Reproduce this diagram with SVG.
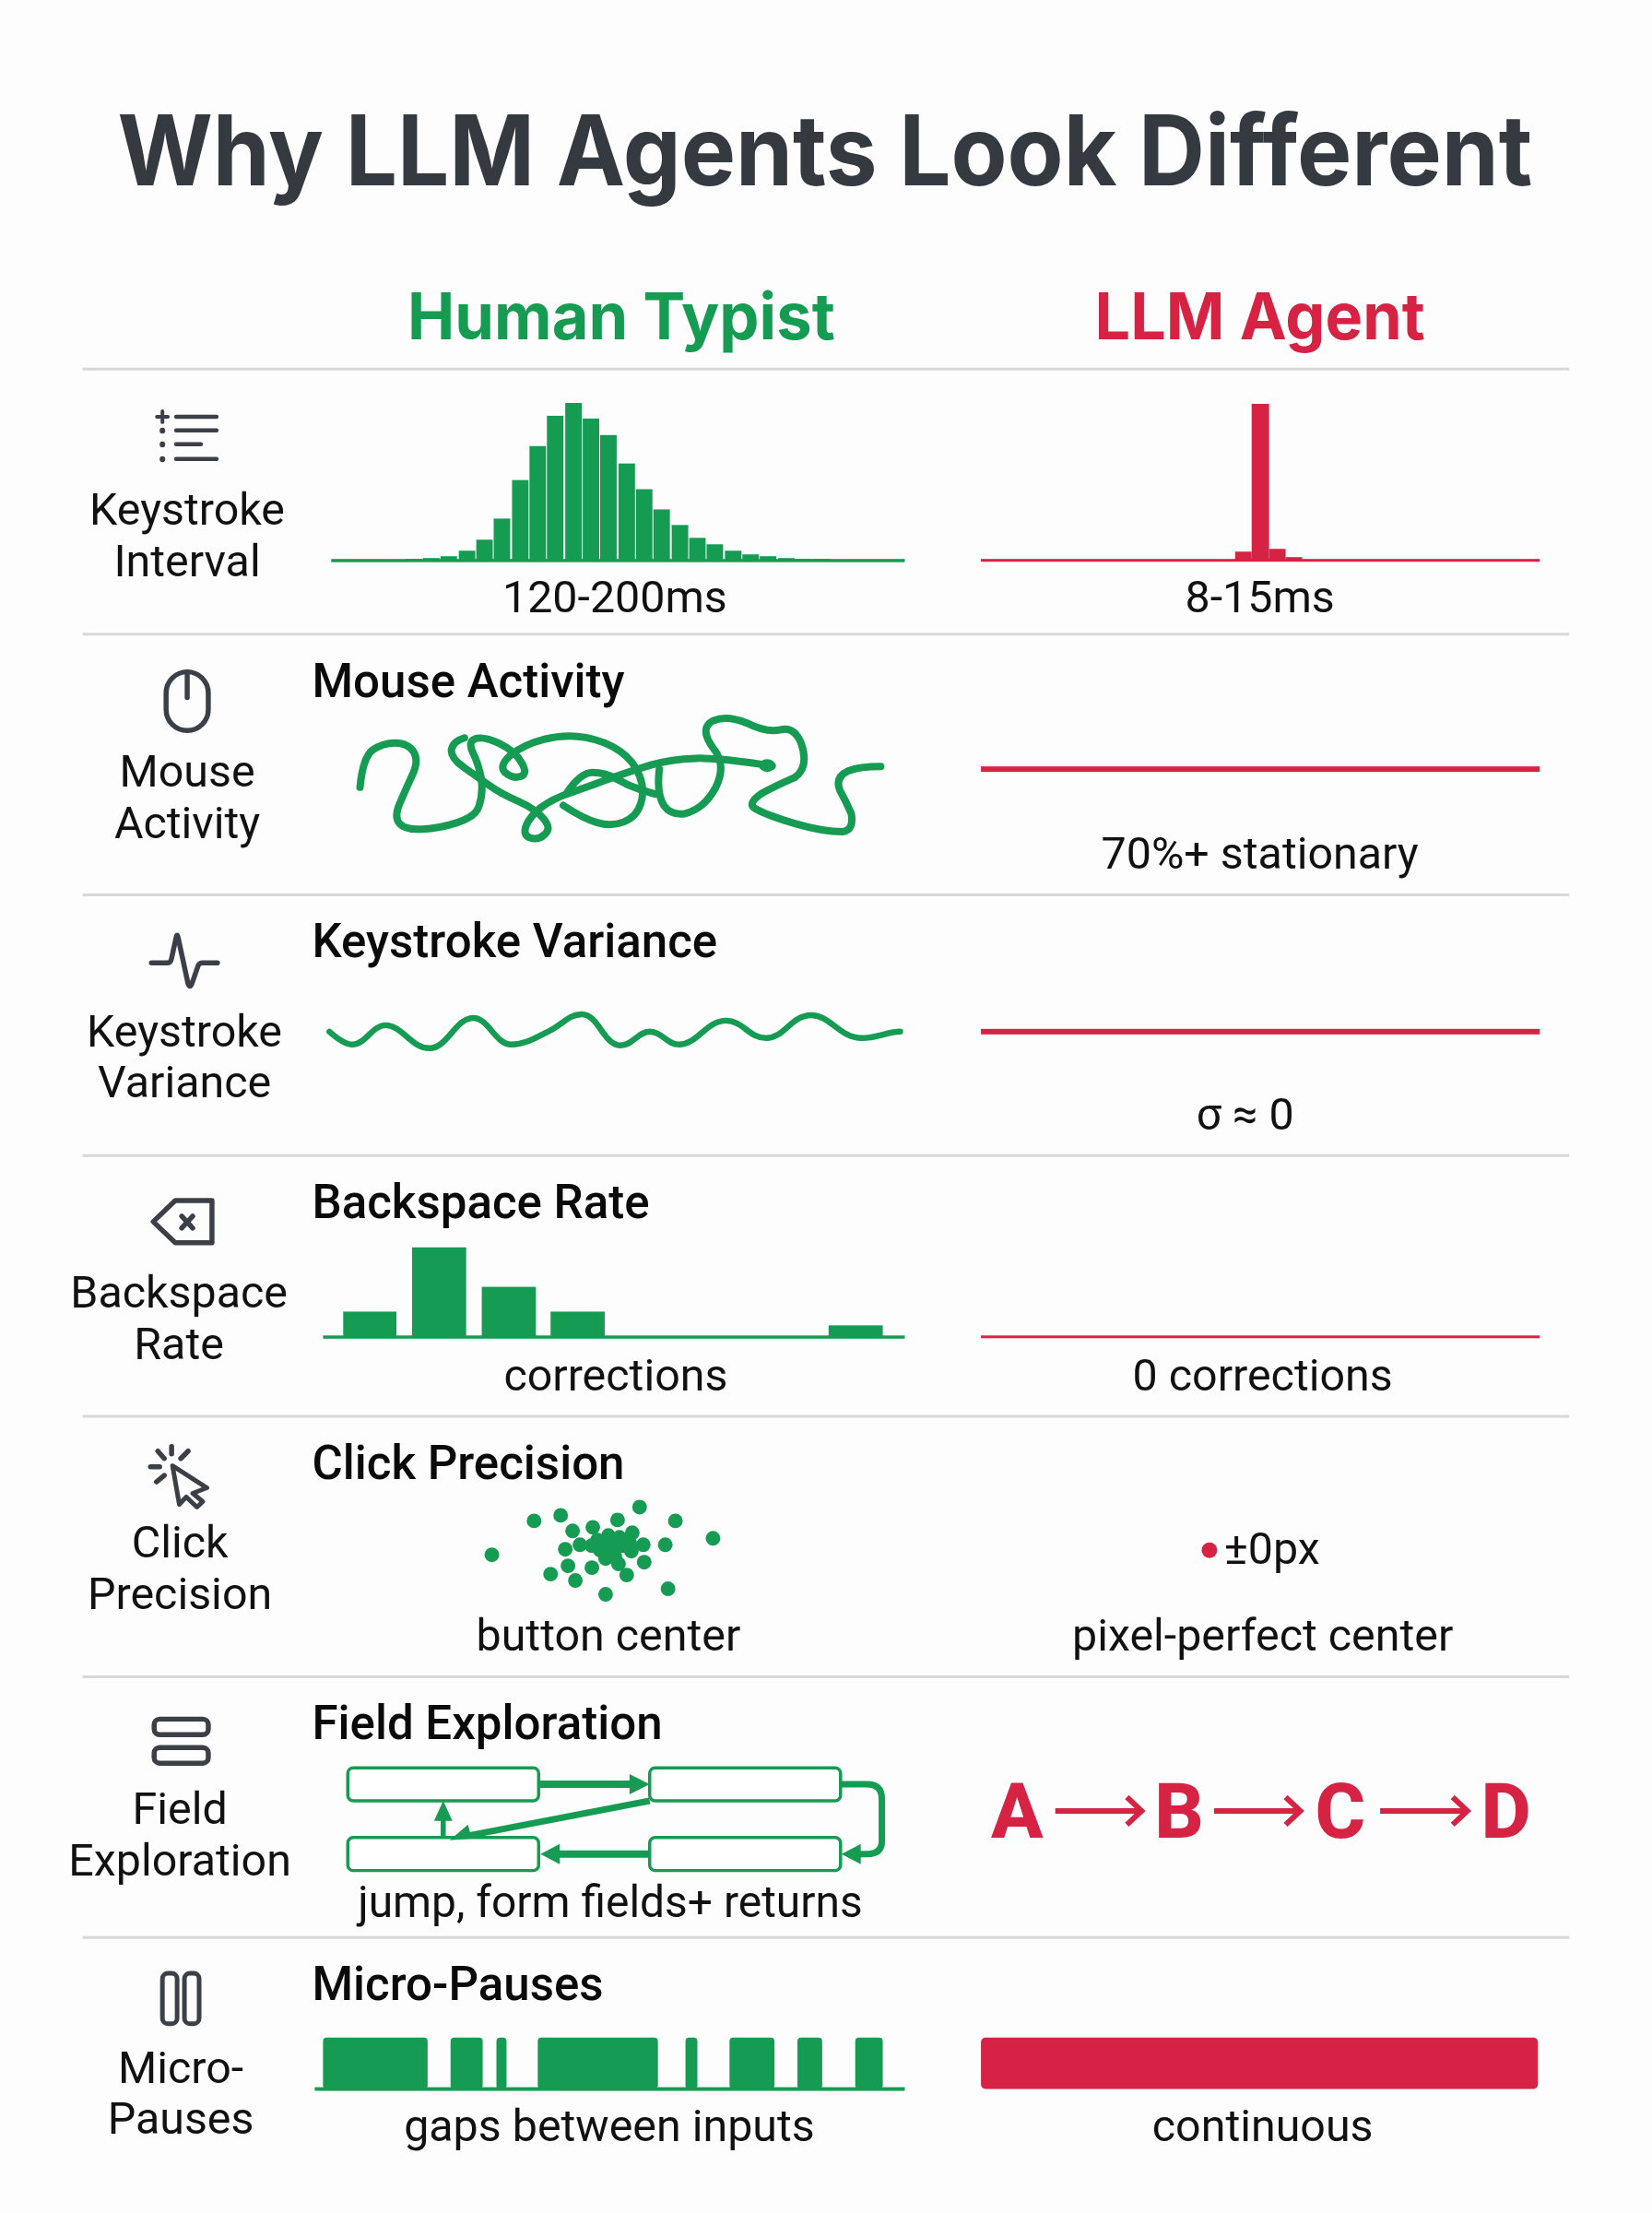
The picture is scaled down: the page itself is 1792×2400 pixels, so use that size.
<svg xmlns="http://www.w3.org/2000/svg" width="1792" height="2400" viewBox="0 0 1792 2400">
<defs>
<style>
text{font-family:Roboto,"Liberation Sans",sans-serif;fill:#111}
.t{font-size:48.6px;text-anchor:middle}
.h{font-size:51.3px;font-weight:500;fill:#0a0a0a}
.c{font-size:48.6px;text-anchor:middle}
.g{fill:#169b53}
.r{fill:#d62243}
.ln{stroke:#d8d8d8;stroke-width:3}
.ic{fill:none;stroke:#3b4048;stroke-width:5.5;stroke-linecap:round;stroke-linejoin:round}
.sq{fill:none;stroke:#169b53;stroke-width:8;stroke-linecap:round;stroke-linejoin:round;vector-effect:non-scaling-stroke}
.box{fill:#fff;stroke:#169b53;stroke-width:3.5}
.ar{fill:none;stroke:#169b53;stroke-width:8}
.ra{fill:none;stroke:#d62243;stroke-width:6}
</style>
</defs>
<rect width="1792" height="2400" fill="#fdfdfd"/>
<g transform="scale(.9954)">
<g id="title"><text x="899" y="202" text-anchor="middle" textLength="1542" lengthAdjust="spacingAndGlyphs" style="font-family:Inter,sans-serif;font-size:106px;font-weight:700;fill:#343a40">Why LLM Agents Look Different</text></g>
<g id="headers">
<text x="677" y="370" text-anchor="middle" textLength="466" lengthAdjust="spacingAndGlyphs" class="g" style="font-family:Inter,sans-serif;font-size:70px;font-weight:700">Human Typist</text>
<text x="1373" y="370" text-anchor="middle" textLength="360" lengthAdjust="spacingAndGlyphs" class="r" style="font-family:Inter,sans-serif;font-size:70px;font-weight:700">LLM Agent</text>
</g>
<g id="separators">
<line class="ln" x1="90" x2="1710" y1="402" y2="402"/>
<line class="ln" x1="90" x2="1710" y1="691" y2="691"/>
<line class="ln" x1="90" x2="1710" y1="975" y2="975"/>
<line class="ln" x1="90" x2="1710" y1="1259" y2="1259"/>
<line class="ln" x1="90" x2="1710" y1="1543" y2="1543"/>
<line class="ln" x1="90" x2="1710" y1="1827" y2="1827"/>
<line class="ln" x1="90" x2="1710" y1="2111" y2="2111"/>
</g>
<g id="row-keystroke-interval">
<g class="ic" style="stroke-width:4.5"><path d="M192 454H236M192 469H236M192 484H219M192 500H236"/><path d="M177 448V460M171 454H183" stroke-width="4"/><path d="M177 469V469.5M177 484V484.5M177 500V500.5" stroke-width="6"/></g>
<text class="t" x="204" y="572">Keystroke</text><text class="t" x="204" y="628">Interval</text>
<g class="g">
<g transform="translate(3 1)"><rect x="439" y="608" width="18" height="2"/><rect x="458" y="607" width="18" height="3"/><rect x="477" y="605" width="18" height="5"/><rect x="497" y="599" width="18" height="11"/><rect x="516" y="587" width="18" height="23"/><rect x="535" y="564" width="18" height="46"/><rect x="555" y="522" width="18" height="88"/><rect x="574" y="485" width="18" height="125"/><rect x="593" y="452" width="18" height="158"/><rect x="613" y="438" width="18" height="172"/><rect x="632" y="455" width="18" height="155"/><rect x="651" y="473" width="18" height="137"/><rect x="671" y="504" width="18" height="106"/><rect x="690" y="532" width="18" height="78"/><rect x="709" y="554" width="18" height="56"/><rect x="729" y="571" width="18" height="39"/><rect x="748" y="585" width="18" height="25"/><rect x="767" y="592" width="18" height="18"/><rect x="787" y="599" width="18" height="11"/><rect x="806" y="603" width="18" height="7"/><rect x="825" y="605" width="18" height="5"/><rect x="845" y="607" width="18" height="3"/><rect x="864" y="608" width="18" height="2"/><rect x="883" y="608" width="18" height="2"/></g>
<rect x="361" y="609" width="625" height="3.5"/></g>
<text class="c" x="670" y="667">120-200ms</text>
<g class="r"><rect x="1364" y="440" width="19" height="171"/><rect x="1346" y="601" width="18" height="10"/><rect x="1383" y="598" width="18" height="13"/><rect x="1401" y="607" width="18" height="4"/><rect x="1069" y="609" width="609" height="3"/></g>
<text class="c" x="1373" y="667">8-15ms</text>
</g>
<g id="row-mouse-activity">
<g class="ic"><rect x="181" y="732" width="46" height="64" rx="23"/><path d="M204 732V760"/></g>
<text class="t" x="204" y="857">Mouse</text><text class="t" x="204" y="913">Activity</text>
<text class="h" x="340" y="759">Mouse Activity</text>
<g transform="translate(60 402) scale(.6154 .3589)">
<path class="sq" d="M540 1270Q545 1180 562 1157Q580 1135 602 1135Q625 1135 635 1162Q645 1190 632 1235Q620 1280 610 1320Q600 1360 610 1380Q620 1400 650 1397Q680 1395 712 1377Q745 1360 751 1325Q758 1290 755 1245Q750 1200 740 1165Q730 1130 745 1122Q760 1115 787 1137Q815 1160 826 1195Q838 1230 824 1237Q810 1245 797 1225Q785 1205 807 1172Q830 1140 867 1124Q905 1108 940 1119Q975 1130 1000 1160Q1025 1190 1035 1235Q1045 1280 1037 1320Q1030 1360 1007 1375Q985 1390 960 1377Q935 1365 900 1325"/>
<path class="sq" d="M1270 1205Q1180 1180 1135 1182Q1090 1185 1055 1202Q1020 1220 985 1242Q950 1265 915 1285Q880 1305 860 1332Q840 1360 834 1387Q828 1415 841 1423Q855 1432 867 1413Q880 1395 865 1365Q850 1335 820 1312Q790 1290 767 1262Q745 1235 722 1207Q700 1180 702 1155Q705 1130 725 1120"/>
<path class="sq" d="M905 1290Q930 1225 952 1225Q975 1225 995 1245Q1015 1265 1037 1277Q1050 1285 1062 1290"/>
<path class="sq" d="M1070 1215Q1065 1290 1078 1325Q1090 1355 1115 1350Q1150 1335 1170 1270Q1190 1200 1165 1150Q1140 1090 1165 1068Q1190 1050 1225 1075Q1260 1105 1285 1095Q1310 1085 1322 1140Q1335 1210 1310 1240Q1270 1270 1250 1290Q1225 1320 1240 1335Q1260 1355 1310 1380Q1360 1405 1395 1405Q1415 1400 1410 1350Q1400 1310 1390 1280Q1380 1240 1405 1220Q1425 1207 1462 1207"/>
</g>
<ellipse class="g" cx="836" cy="834" rx="9" ry="7"/>
<rect class="r" x="1069" y="835" width="609" height="6"/>
<text class="c" x="1373" y="946">70%+ stationary</text>
</g>
<g id="row-keystroke-variance">
<path class="ic" d="M165 1049H183Q186 1049 187 1044L192 1021Q193 1017 194 1021L205 1072Q207 1077 209 1072L216 1052Q217 1049 221 1049H237"/>
<text class="t" x="201" y="1140">Keystroke</text><text class="t" x="201" y="1196">Variance</text>
<text class="h" x="340" y="1043">Keystroke Variance</text>
<path fill="none" stroke="#169b53" stroke-width="6.500" stroke-linecap="round" d="M359 1124C368 1132 376 1138 384 1138C398 1138 406 1117 420 1117C438 1117 448 1142 468 1142C488 1142 496 1109 516 1109C532 1109 540 1138 557 1138C573 1138 585 1130 599 1123C612 1117 620 1105 634 1105C652 1105 658 1139 676 1139C690 1139 695 1124 708 1124C722 1124 726 1138 740 1138C760 1138 770 1112 791 1112C810 1112 816 1131 835 1131C855 1131 862 1106 884 1106C905 1106 915 1131 939 1131C955 1131 968 1124 981 1124"/>
<rect class="r" x="1069" y="1121" width="609" height="6"/>
<text class="c" x="1357" y="1231">σ ≈ 0</text>
</g>
<g id="row-backspace-rate">
<g class="ic"><path d="M191 1308H231V1354H191L167 1331Z"/><path d="M198 1325L210 1338M210 1325L198 1338"/></g>
<text class="t" x="195" y="1425">Backspace</text><text class="t" x="195" y="1481">Rate</text>
<text class="h" x="340" y="1327">Backspace Rate</text>
<g class="g"><rect x="374" y="1429" width="58" height="27"/><rect x="449" y="1359" width="59" height="97"/><rect x="525" y="1402" width="59" height="54"/><rect x="600" y="1429" width="59" height="27"/><rect x="903" y="1444" width="59" height="12"/><rect x="352" y="1455" width="634" height="3.5"/></g>
<text class="c" x="671" y="1515">corrections</text>
<rect class="r" x="1069" y="1455" width="609" height="3"/>
<text class="c" x="1376" y="1515">0 corrections</text>
</g>
<g id="row-click-precision">
<g class="ic"><path d="M188 1597L225.5 1621L210 1627L221 1636L214.6 1642L203 1631L195.4 1639Z" stroke-width="5"/><path d="M187 1576V1584M172 1581L179 1589M205 1581L197 1589M164 1598H174M170.500 1614.500L179 1607.500"/></g>
<text class="t" x="196" y="1697">Click</text><text class="t" x="196" y="1753">Precision</text>
<text class="h" x="340" y="1611">Click Precision</text>
<g class="g"><circle cx="536" cy="1694" r="8"/><circle cx="582" cy="1657" r="8"/><circle cx="611" cy="1651" r="8"/><circle cx="697" cy="1642" r="8"/><circle cx="736" cy="1657" r="8"/><circle cx="777" cy="1676" r="8"/><circle cx="624" cy="1668" r="8"/><circle cx="646" cy="1664" r="8"/><circle cx="673" cy="1656" r="8"/><circle cx="689" cy="1670" r="8"/><circle cx="632" cy="1683" r="8"/><circle cx="616" cy="1688" r="8"/><circle cx="701" cy="1683" r="8"/><circle cx="725" cy="1683" r="8"/><circle cx="619" cy="1706" r="8"/><circle cx="600" cy="1715" r="8"/><circle cx="627" cy="1722" r="8"/><circle cx="645" cy="1708" r="8"/><circle cx="683" cy="1716" r="8"/><circle cx="702" cy="1702" r="8"/><circle cx="728" cy="1731" r="8"/><circle cx="660" cy="1737" r="8"/><circle cx="674" cy="1704" r="8"/><circle cx="688" cy="1690" r="8"/><circle cx="651" cy="1678" r="8"/><circle cx="663" cy="1673" r="8"/><circle cx="675" cy="1675" r="8"/><circle cx="678" cy="1684" r="8"/><circle cx="666" cy="1689" r="8"/><circle cx="654" cy="1689" r="8"/><circle cx="645" cy="1684" r="8"/><circle cx="660" cy="1698" r="8"/><circle cx="663" cy="1682" r="8"/><circle cx="670" cy="1696" r="8"/><circle cx="686" cy="1680" r="8"/><circle cx="657" cy="1680" r="8"/><circle cx="672" cy="1682" r="8"/></g>
<text class="c" x="663" y="1798">button center</text>
<circle class="r" cx="1318" cy="1689" r="8.5"/>
<text x="1334" y="1704" style="font-size:48.6px">±0px</text>
<text class="c" x="1376" y="1798">pixel-perfect center</text>
</g>
<g id="row-field-exploration">
<g class="ic"><rect x="168" y="1873" width="59" height="17" rx="6"/><rect x="168" y="1904" width="59" height="17" rx="6"/></g>
<text class="t" x="196" y="1987">Field</text><text class="t" x="196" y="2043">Exploration</text>
<text class="h" x="340" y="1895">Field Exploration</text>
<rect class="box" x="379" y="1926" width="208" height="36" rx="6"/><rect class="box" x="708" y="1926" width="208" height="36" rx="6"/><rect class="box" x="379" y="2002" width="208" height="36" rx="6"/><rect class="box" x="708" y="2002" width="208" height="36" rx="6"/>
<text class="c" x="665" y="2089" textLength="550" lengthAdjust="spacingAndGlyphs">jump, form fields+ returns</text>
<g style="font-family:Inter,sans-serif;font-size:84px;font-weight:800"><text class="r" x="1080" y="2002">A</text><text class="r" x="1258" y="2002">B</text><text class="r" x="1433" y="2002">C</text><text class="r" x="1614" y="2002">D</text></g>
</g>
<g id="connectors">
<path class="ar" d="M587 1944H688"/><path class="g" d="M686 1933L708 1944L686 1955Z"/>
<path class="ar" style="stroke-width:7" d="M708 1962L510 2000"/><path class="g" d="M490 2005L510 1988L514 2003Z"/>
<path class="ar" style="stroke-width:5.500" d="M483 2002V1981"/><path class="g" d="M483 1962L493 1984H473Z"/>
<path class="ar" d="M708 2020H608"/><path class="g" d="M589 2020L610 2009V2031Z"/>
<path class="ar" style="stroke-width:7" d="M916 1944H945Q961 1944 961 1960V2006Q961 2020 945 2020H936"/><path class="g" d="M917 2020L938 2009V2031Z"/>
<path class="ra" d="M1150 1973H1243M1228 1958L1244 1973L1228 1988"/>
<path class="ra" d="M1323 1973H1416M1401 1958L1417 1973L1401 1988"/>
<path class="ra" d="M1504 1973H1598M1583 1958L1599 1973L1583 1988"/>
</g>
<g id="row-micro-pauses">
<g class="ic" style="stroke-width:5"><rect x="177" y="2150" width="16" height="55" rx="6"/><rect x="201" y="2150" width="16" height="55" rx="6"/></g>
<text class="t" x="197" y="2269">Micro-</text><text class="t" x="197" y="2325">Pauses</text>
<text class="h" x="340" y="2179">Micro-Pauses</text>
<g class="g"><rect x="352" y="2220" width="114" height="56" rx="4"/><rect x="491" y="2220" width="35" height="56" rx="4"/><rect x="541" y="2220" width="11" height="56" rx="4"/><rect x="586" y="2220" width="131" height="56" rx="4"/><rect x="747" y="2220" width="13" height="56" rx="4"/><rect x="795" y="2220" width="49" height="56" rx="4"/><rect x="869" y="2220" width="27" height="56" rx="4"/><rect x="932" y="2220" width="30" height="56" rx="4"/><rect x="343" y="2274" width="643" height="4"/></g>
<text class="c" x="664" y="2333">gaps between inputs</text>
<rect class="r" x="1069" y="2220" width="607" height="56" rx="5"/>
<text class="c" x="1376" y="2333">continuous</text>
</g>
</g>
</svg>
